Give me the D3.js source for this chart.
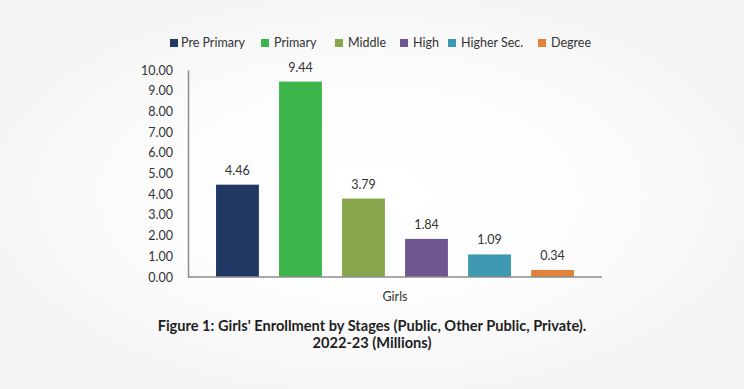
<!DOCTYPE html>
<html>
<head>
<meta charset="utf-8">
<script src="https://cdn.jsdelivr.net/npm/d3@7"></script>
<style>
  html, body { margin: 0; padding: 0; background: #f4f4f6; }
  svg { display: block; font-family: Lato, "Open Sans", sans-serif; }
</style>
</head>
<body>
<div id="viz"></div>
<script>
// chart data
const stages = ["Pre Primary", "Primary", "Middle", "High", "Higher Sec.", "Degree"];
const values = [4.46, 9.44, 3.79, 1.84, 1.09, 0.34];
const colors = ["#1f3864", "#3bb54a", "#88a64b", "#6f5691", "#3d98b0", "#e0823c"];
const yTicks = [0, 1, 2, 3, 4, 5, 6, 7, 8, 9, 10];
const category = "Girls";
const titleLines = ["Figure 1: Girls' Enrollment by Stages (Public, Other Public, Private).", "2022-23 (Millions)"];

const width = 744, height = 389;
const plot = { left: 188, right: 602, top: 70, bottom: 277 };

const svg = d3.select("#viz").append("svg")
    .attr("width", width)
    .attr("height", height);

// soft background glow
const grad = svg.append("defs").append("radialGradient")
    .attr("id", "bg")
    .attr("cx", "50%").attr("cy", "50%")
    .attr("r", "60%");
grad.append("stop").attr("offset", "0%").attr("stop-color", "#ffffff");
grad.append("stop").attr("offset", "45%").attr("stop-color", "#fdfdfd");
grad.append("stop").attr("offset", "100%").attr("stop-color", "#f3f3f5");
svg.append("rect")
    .attr("width", width).attr("height", height)
    .attr("fill", "url(#bg)");

// scales
const x = d3.scaleBand()
    .domain(stages)
    .range([plot.left, plot.right])
    .paddingInner(0.32)
    .paddingOuter(0.445);

const y = d3.scaleLinear()
    .domain([0, 10])
    .range([plot.bottom, plot.top]);

// y axis with labels, no ticks
const yAxis = svg.append("g")
    .attr("transform", `translate(${plot.left},0)`)
    .call(d3.axisLeft(y).tickValues(yTicks).tickSize(0).tickPadding(15).tickFormat(d3.format(".2f")));
yAxis.select(".domain").attr("stroke", "#8c8c8c").attr("stroke-width", 1.5);
yAxis.selectAll("text").attr("font-size", 12.5).attr("fill", "#333").attr("font-family", "Lato, sans-serif");

// bars
svg.selectAll("rect.bar")
    .data(values)
    .enter()
    .append("rect")
    .attr("class", "bar")
    .attr("x", (d, i) => x(stages[i]))
    .attr("y", d => y(d))
    .attr("width", x.bandwidth())
    .attr("height", d => y(0) - y(d))
    .attr("fill", (d, i) => colors[i]);

// value labels
svg.selectAll("text.val")
    .data(values)
    .enter()
    .append("text")
    .attr("class", "val")
    .attr("x", (d, i) => x(stages[i]) + x.bandwidth() / 2)
    .attr("y", d => y(d) - 10)
    .attr("text-anchor", "middle")
    .attr("font-size", 12.5)
    .attr("fill", "#333")
    .text(d => d.toFixed(2));

// x axis line
svg.append("line")
    .attr("x1", plot.left).attr("x2", plot.right)
    .attr("y1", y(0)).attr("y2", y(0))
    .attr("stroke", "#8c8c8c")
    .attr("stroke-width", 1.5);

svg.append("text")
    .attr("x", (plot.left + plot.right) / 2)
    .attr("y", 301)
    .attr("text-anchor", "middle")
    .attr("font-size", 12.5)
    .attr("fill", "#333")
    .text(category);

// legend
const legendX = [170, 261, 335, 400, 448, 538];
const legend = svg.selectAll("g.legend")
    .data(stages)
    .enter()
    .append("g")
    .attr("class", "legend")
    .attr("transform", (d, i) => `translate(${legendX[i]},39)`);
legend.append("rect")
    .attr("width", 8).attr("height", 8)
    .attr("fill", (d, i) => colors[i]);
legend.append("text")
    .attr("x", (d, i) => i === 0 ? 11 : 13)
    .attr("y", 8)
    .attr("font-size", 12.5)
    .attr("fill", "#333")
    .text(d => d);

// title
svg.selectAll("text.title")
    .data(titleLines)
    .enter()
    .append("text")
    .attr("class", "title")
    .attr("x", 372)
    .attr("y", (d, i) => 331 + i * 17)
    .attr("text-anchor", "middle")
    .attr("font-size", 14.6)
    .attr("font-weight", "bold")
    .attr("fill", "#1e1e1e")
    .text(d => d);
</script>
</body>
</html>
